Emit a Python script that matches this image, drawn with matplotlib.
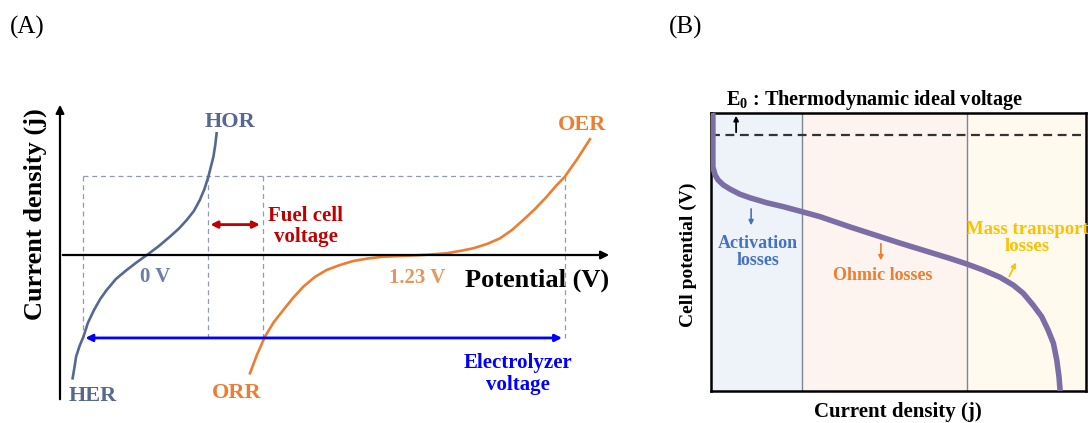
import matplotlib.pyplot as plt

plt.rcParams['font.family'] = ['Liberation Serif', 'DejaVu Serif']
plt.rcParams['mathtext.fontset'] = 'custom'
plt.rcParams['mathtext.rm'] = 'Liberation Serif'
plt.rcParams['mathtext.bf'] = 'Liberation Serif:bold'

# Painel (A): curvas de polarizacao (potencial em V, densidade de corrente arbitraria)
her_hor_v = [-0.323, -0.315, -0.308, -0.293, -0.276, -0.257, -0.230, -0.203, -0.175, -0.135, -0.088,
             -0.043, 0.0, 0.052, 0.100, 0.139, 0.173, 0.204, 0.230, 0.250, 0.267, 0.289, 0.297, 0.303]
her_hor_j = [-1.561, -1.418, -1.287, -1.152, -1.034, -0.861, -0.696, -0.557, -0.443, -0.304, -0.190,
             -0.089, 0.0, 0.114, 0.232, 0.335, 0.443, 0.557, 0.696, 0.835, 0.991, 1.244, 1.392, 1.541]

orr_oer_v = [0.448, 0.478, 0.513, 0.552, 0.593, 0.635, 0.680, 0.730, 0.781, 0.839, 0.897, 0.961,
             1.027, 1.100, 1.173, 1.230, 1.303, 1.361, 1.419, 1.478, 1.535, 1.587, 1.636, 1.687,
             1.738, 1.778, 1.817, 1.843, 1.868, 1.896, 1.926]
orr_oer_j = [-1.497, -1.266, -1.034, -0.848, -0.696, -0.544, -0.401, -0.278, -0.190, -0.127, -0.076, -0.044,
             -0.022, -0.013, -0.004, 0.006, 0.022, 0.051, 0.085, 0.139, 0.211, 0.316, 0.443, 0.582,
             0.738, 0.873, 0.991, 1.101, 1.203, 1.329, 1.465]

j_top = 1.0          # nivel das linhas tracejadas
j_fuel = 0.385       # seta da celula a combustivel
j_elec = -1.05       # seta do eletrolisador
v_her, v_hor, v_orr, v_oer = -0.280, 0.264, 0.503, 1.817

# Painel (B): curva de polarizacao da celula
cell_j = [0.005, 0.005, 0.011, 0.019, 0.033, 0.051, 0.077, 0.104, 0.149, 0.193, 0.237, 0.291, 0.371,
          0.504, 0.637, 0.682, 0.726, 0.771, 0.806, 0.833, 0.859, 0.882, 0.899, 0.913, 0.922, 0.928, 0.931]
cell_v = [1.0, 0.806, 0.777, 0.759, 0.741, 0.726, 0.708, 0.695, 0.677, 0.663, 0.647, 0.627, 0.590,
          0.532, 0.477, 0.457, 0.435, 0.409, 0.381, 0.351, 0.309, 0.267, 0.219, 0.172, 0.112, 0.051, 0.0]
region_edges = [0.0, 0.243, 0.683, 1.0]
region_colors = ['#eef3fa', '#fdf4ef', '#fffaed']
e0_level = 0.921

fig = plt.figure(figsize=(10.88, 4.23), dpi=100)

# ---------------- (A) ----------------
axA = fig.add_axes([60 / 1088, 21 / 423, 552 / 1088, 300 / 423])
axA.set_xlim(-0.378, 2.022)
axA.set_ylim(-1.861, 1.937)
axA.axis('off')

slate = '#56688f'
orange = '#ed7d31'
dash = dict(color='#8f9bb3', lw=0.9, ls=(0, (4, 3)))

axA.plot([v_her, v_oer], [j_top, j_top], **dash)
for v in [v_her, v_hor, v_orr, v_oer]:
    axA.plot([v, v], [j_top, j_elec], **dash)

axA.annotate('', xy=(-0.378, 1.937), xytext=(-0.378, -1.861),
             arrowprops=dict(arrowstyle='-|>', color='black', lw=1.6, mutation_scale=12))
axA.annotate('', xy=(2.022, 0), xytext=(-0.378, 0),
             arrowprops=dict(arrowstyle='-|>', color='black', lw=1.6, mutation_scale=12))

axA.plot(her_hor_v, her_hor_j, color=slate, lw=1.9, solid_joinstyle='round')
axA.plot(orr_oer_v, orr_oer_j, color=orange, lw=1.9, solid_joinstyle='round')

axA.annotate('', xy=(v_orr, j_fuel), xytext=(v_hor, j_fuel),
             arrowprops=dict(arrowstyle='<|-|>', color='#c00000', lw=2, mutation_scale=10))
axA.annotate('', xy=(v_oer, j_elec), xytext=(v_her, j_elec),
             arrowprops=dict(arrowstyle='<|-|>', color='#0000ff', lw=2, mutation_scale=10))

bold = dict(fontweight='bold', ha='center', va='center', clip_on=False)
axA.text(0.361, 1.684, 'HOR', color=slate, fontsize=16, **bold)
axA.text(-0.235, -1.785, 'HER', color=slate, fontsize=16, **bold)
axA.text(0.391, -1.747, 'ORR', color=orange, fontsize=16, **bold)
axA.text(1.891, 1.646, 'OER', color=orange, fontsize=16, **bold)
axA.text(0.038, -0.274, '0 V', color='#6e7fa3', fontsize=15, **bold)
axA.text(1.173, -0.295, '1.23 V', color='#e8955a', fontsize=15, **bold)
axA.text(1.383, -0.325, 'Potential (V)', color='black', fontsize=19,
         fontweight='bold', ha='left', va='center')
axA.text(0.691, 0.358, 'Fuel cell\nvoltage', color='#c00000', fontsize=15,
         linespacing=1.1, **bold)
axA.text(1.613, -1.506, 'Electrolyzer\nvoltage', color='#0000ff', fontsize=15,
         linespacing=1.1, **bold)
fig.text(35 / 1088, 1 - 214 / 423, 'Current density (j)', rotation=90,
         fontsize=19, fontweight='bold', ha='center', va='center')

fig.text(27 / 1088, 1 - 27 / 423, '(A)', fontsize=18, ha='center', va='center')
fig.text(686 / 1088, 1 - 27 / 423, '(B)', fontsize=18, ha='center', va='center')

# ---------------- (B) ----------------
axB = fig.add_axes([711 / 1088, 32 / 423, 375 / 1088, 278 / 423])
axB.set_xlim(0, 1)
axB.set_ylim(0, 1)
axB.set_xticks([])
axB.set_yticks([])
for s in axB.spines.values():
    s.set_linewidth(1.8)

for i, c in enumerate(region_colors):
    axB.axvspan(region_edges[i], region_edges[i + 1], color=c, lw=0, zorder=0)
for x in region_edges[1:3]:
    axB.axvline(x, color='#7d8599', lw=1, zorder=1)

axB.axhline(e0_level, color='#333333', lw=1.6, ls=(0, (4, 2.5)), zorder=2)
axB.annotate('', xy=(0.067, 1.0), xytext=(0.067, e0_level),
             arrowprops=dict(arrowstyle='-|>', color='black', lw=1.3, mutation_scale=7))

axB.plot(cell_j, cell_v, color='#7b6ea6', lw=4, solid_capstyle='butt',
         solid_joinstyle='round', zorder=3)

axB.annotate('', xy=(0.107, 0.586), xytext=(0.107, 0.665),
             arrowprops=dict(arrowstyle='-|>', color='#4472c4', lw=1.2, mutation_scale=7))
axB.annotate('', xy=(0.453, 0.460), xytext=(0.453, 0.540),
             arrowprops=dict(arrowstyle='-|>', color=orange, lw=1.2, mutation_scale=7))
axB.annotate('', xy=(0.816, 0.471), xytext=(0.792, 0.403),
             arrowprops=dict(arrowstyle='-|>', color='#ffc000', lw=1.2, mutation_scale=7))

axB.text(0.125, 0.50, 'Activation\nlosses', color='#4472c4', fontsize=13,
         linespacing=1.05, **bold)
axB.text(0.459, 0.417, 'Ohmic losses', color=orange, fontsize=13, **bold)
axB.text(0.843, 0.55, 'Mass transport\nlosses', color='#ffc000', fontsize=13.5,
         linespacing=1.05, **bold)
axB.text(0.04, 1.047, 'E$_{\\mathbf{0}}$ : Thermodynamic ideal voltage', fontsize=14.6,
         fontweight='bold', ha='left', va='center', clip_on=False)

fig.text(688 / 1088, 1 - 255 / 423, 'Cell potential (V)', rotation=90, fontsize=14,
         fontweight='bold', ha='center', va='center')
fig.text(898 / 1088, 1 - 412 / 423, 'Current density (j)', fontsize=15,
         fontweight='bold', ha='center', va='center')

fig.savefig('out.png', dpi=100)
plt.close()
